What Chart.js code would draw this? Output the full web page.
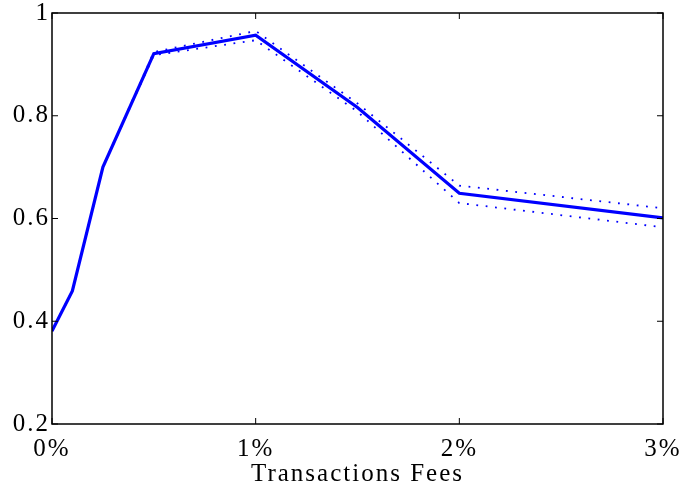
<!DOCTYPE html>
<html>
<head>
<meta charset="utf-8">
<script src="https://cdn.jsdelivr.net/npm/chart.js@4/dist/chart.umd.min.js"></script>
<style>
  html, body { margin: 0; padding: 0; background: #fff; }
  #wrap { width: 682px; height: 488px; }
</style>
</head>
<body>
<div id="wrap"><canvas id="fees-chart"></canvas></div>
<script>
// transaction fee levels (in %)
var fees = [0, 0.1, 0.25, 0.5, 1, 1.5, 2, 3];
var mean = [0.381, 0.459, 0.700, 0.921, 0.957, 0.816, 0.649, 0.601];
var upper = [0.381, 0.459, 0.700, 0.924, 0.965, 0.824, 0.664, 0.620];
var lower = [0.381, 0.459, 0.700, 0.918, 0.947, 0.808, 0.630, 0.583];
var xTicks = [0, 1, 2, 3];
var yTicks = [0.2, 0.4, 0.6, 0.8, 1];

function pts(ys) {
  return fees.map(function (f, i) { return { x: f, y: ys[i] }; });
}

// the original text is a bit wider than Liberation Serif, so space it out
var spacing = {
  id: 'spacing',
  beforeLayout: function (chart) { chart.ctx.letterSpacing = '2px'; },
  beforeDraw: function (chart) { chart.ctx.letterSpacing = '2px'; }
};

// box around the plot plus inward ticks on every side (matlab look)
var boxTicks = {
  id: 'boxTicks',
  afterDraw: function (chart) {
    var ctx = chart.ctx, a = chart.chartArea;
    var xs = chart.scales.x, ys = chart.scales.y;
    var len = 6;
    ctx.save();
    ctx.strokeStyle = '#000';
    ctx.lineWidth = 1.5;
    ctx.strokeRect(a.left, a.top, a.right - a.left, a.bottom - a.top);
    ctx.lineWidth = 1;
    ctx.beginPath();
    xTicks.forEach(function (t) {
      var px = xs.getPixelForValue(t);
      ctx.moveTo(px, a.bottom); ctx.lineTo(px, a.bottom - len);
      ctx.moveTo(px, a.top); ctx.lineTo(px, a.top + len);
    });
    yTicks.forEach(function (t) {
      var py = ys.getPixelForValue(t);
      ctx.moveTo(a.left, py); ctx.lineTo(a.left + len, py);
      ctx.moveTo(a.right, py); ctx.lineTo(a.right - len, py);
    });
    ctx.stroke();
    ctx.restore();
  }
};

var ctx = document.getElementById('fees-chart').getContext('2d');
new Chart(ctx, {
  type: 'line',
  data: {
    datasets: [{
      label: 'mean',
      data: pts(mean),
      borderColor: '#0000ff',
      borderWidth: 3.2,
      pointRadius: 0,
      tension: 0,
      order: 0
    }, {
      label: 'upper',
      data: pts(upper),
      borderColor: '#0000ff',
      borderWidth: 1.8,
      borderDash: [1.8, 7.6],
      pointRadius: 0,
      tension: 0,
      order: 1
    }, {
      label: 'lower',
      data: pts(lower),
      borderColor: '#0000ff',
      borderWidth: 1.8,
      borderDash: [1.8, 7.6],
      pointRadius: 0,
      tension: 0,
      order: 1
    }]
  },
  options: {
    responsive: true,
    maintainAspectRatio: false,
    animation: false,
    layout: { padding: { top: 13, right: 19, left: 0, bottom: 0 } },
    plugins: {
      legend: { display: false },
      tooltip: { enabled: false }
    },
    scales: {
      x: {
        type: 'linear',
        min: 0,
        max: 3,
        afterBuildTicks: function (s) { s.ticks = xTicks.map(function (v) { return { value: v }; }); },
        ticks: {
          color: '#000',
          padding: 10,
          maxRotation: 0,
          font: { family: 'Liberation Serif', size: 25 },
          callback: function (v) { return v + '%'; }
        },
        grid: { display: false, drawTicks: false },
        border: { display: false },
        title: {
          display: true,
          text: 'Transactions Fees',
          color: '#000',
          font: { family: 'Liberation Serif', size: 25, lineHeight: 1.1 },
          padding: { top: 0, bottom: 0 }
        },
        afterFit: function (s) {
          s.height = 64;
          s.paddingLeft = 0;
          s.paddingRight = 0;
        }
      },
      y: {
        min: 0.2,
        max: 1,
        afterBuildTicks: function (s) { s.ticks = yTicks.map(function (v) { return { value: v }; }); },
        ticks: {
          color: '#000',
          padding: 2,
          font: { family: 'Liberation Serif', size: 25 },
          callback: function (v) { return v === 1 ? '1' : v.toFixed(1); }
        },
        grid: { display: false, drawTicks: false },
        border: { display: false },
        afterFit: function (s) {
          s.width = 52;
          s.paddingTop = 0;
          s.paddingBottom = 0;
        }
      }
    }
  },
  plugins: [spacing, boxTicks]
});
</script>
</body>
</html>
